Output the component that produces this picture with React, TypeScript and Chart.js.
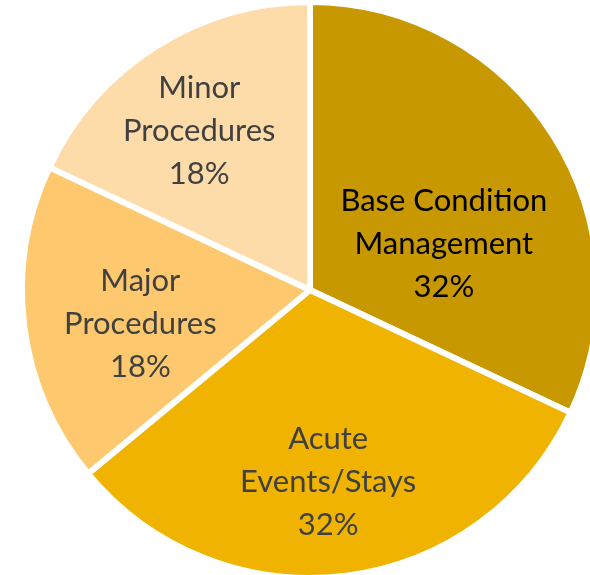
import React, { useEffect, useRef } from "react";
import { Chart, registerables } from "chart.js";

Chart.register(...registerables);

const categories = [
  ["Base Condition", "Management"],
  ["Acute", "Events/Stays"],
  ["Major", "Procedures"],
  ["Minor", "Procedures"],
];
const values = [32, 32, 18, 18];
const percentLabels = ["32%", "32%", "18%", "18%"];
const colors = ["#C89800", "#F0B400", "#FEC86E", "#FEDCAA"];
const textColors = ["#000000", "#404040", "#404040", "#404040"];
// label placement: angle offset (deg) from slice bisector, radius fraction
const labelAngleOffset = [13.6, 1.8, -4.2, -2.5];
const labelRadiusFrac = [0.491, 0.67, 0.601, 0.672];

const labelPlugin = {
  id: "sliceLabels",
  afterDatasetsDraw(chart: any) {
    const ctx = chart.ctx;
    const meta = chart.getDatasetMeta(0);
    ctx.save();
    ctx.font = "31px Lato, 'Open Sans', sans-serif";
    ctx.textAlign = "center";
    ctx.textBaseline = "middle";
    meta.data.forEach((arc: any, i: number) => {
      const { x, y, startAngle, endAngle, outerRadius } = arc.getProps(
        ["x", "y", "startAngle", "endAngle", "outerRadius"],
        true
      );
      const mid = (startAngle + endAngle) / 2 + (labelAngleOffset[i] * Math.PI) / 180;
      const r = outerRadius * labelRadiusFrac[i];
      const cx = x + Math.cos(mid) * r;
      const cy = y + Math.sin(mid) * r;
      const lines = [...categories[i], percentLabels[i]];
      const lh = 43;
      ctx.fillStyle = textColors[i];
      lines.forEach((ln, k) => {
        ctx.fillText(ln, cx, cy + (k - (lines.length - 1) / 2) * lh);
      });
    });
    ctx.restore();
  },
};

export default function App() {
  const ref = useRef<HTMLCanvasElement>(null);
  useEffect(() => {
    if (!ref.current) return;
    const chart = new Chart(ref.current, {
      type: "pie",
      data: {
        labels: categories.map((c) => c.join(" ")),
        datasets: [
          {
            data: values,
            backgroundColor: colors,
            borderColor: "#ffffff",
            borderWidth: 6,
            radius: 288,
          } as any,
        ],
      },
      options: {
        responsive: false,
        animation: false,
        layout: { padding: 0 },
        plugins: {
          legend: { display: false },
          tooltip: { enabled: false },
        },
      },
      plugins: [labelPlugin],
    });
    return () => chart.destroy();
  }, []);
  return (
    <div
      style={{
        position: "fixed",
        left: 0,
        top: 0,
        width: 590,
        height: 575,
        overflow: "hidden",
        background: "#fff",
      }}
    >
      <canvas ref={ref} width={620} height={580} style={{ display: "block" }} />
    </div>
  );
}
